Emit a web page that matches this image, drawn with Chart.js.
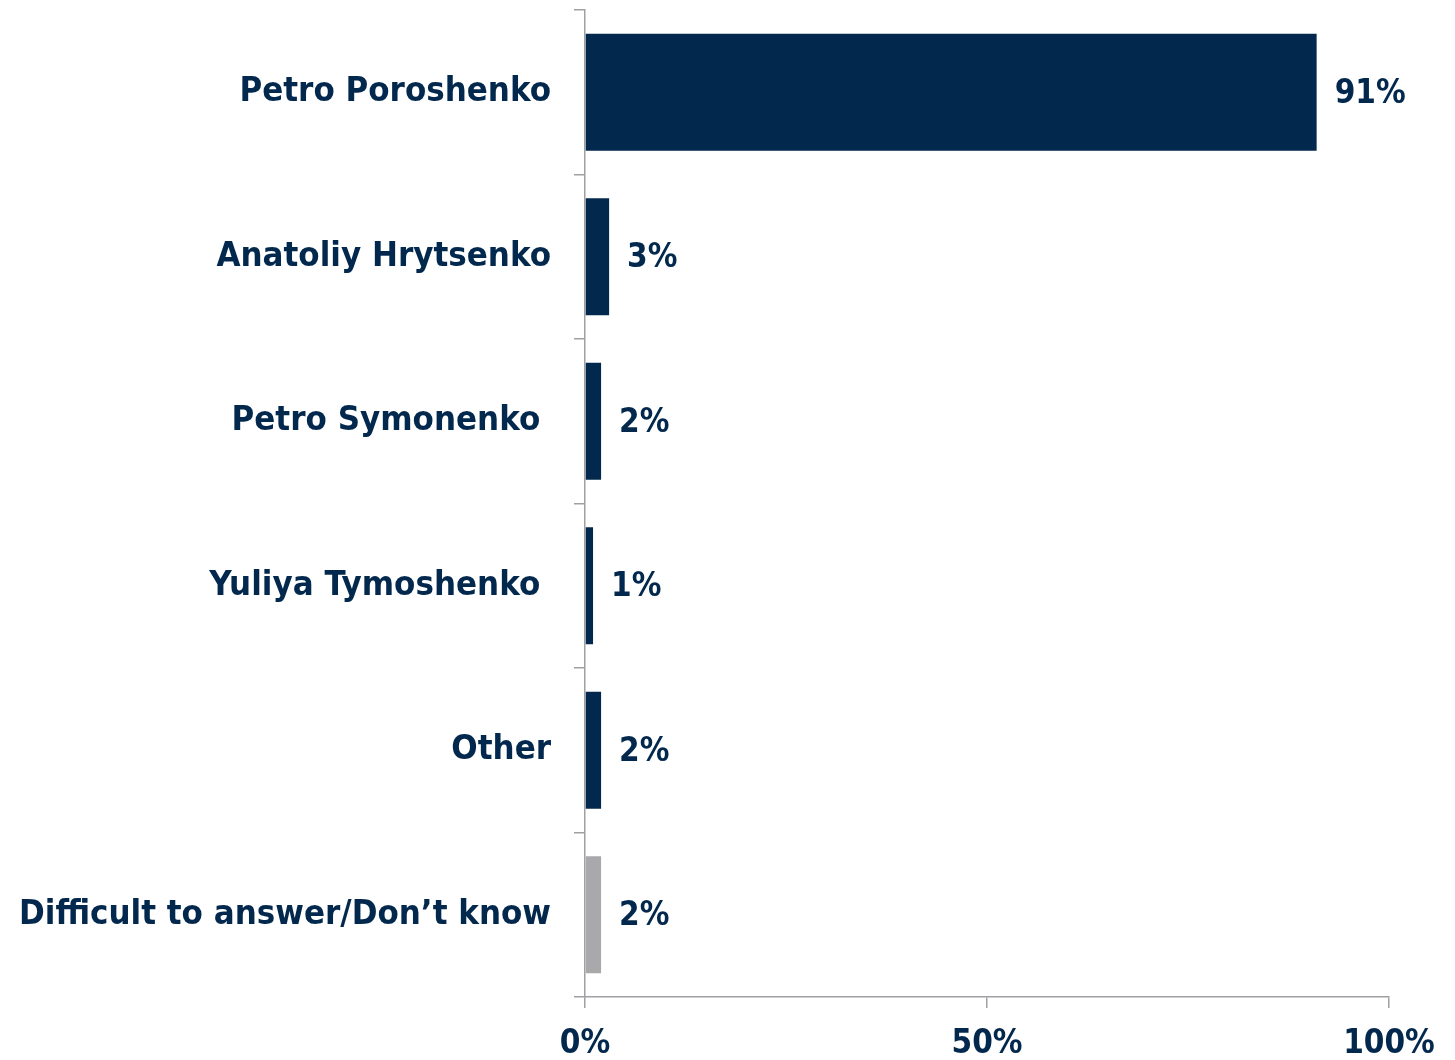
<!DOCTYPE html>
<html>
<head>
<meta charset="utf-8">
<script src="https://cdn.jsdelivr.net/npm/chart.js@4.4.1/dist/chart.umd.min.js"></script>
<style>
  html, body { margin: 0; padding: 0; background: #fff; }
  #wrap { width: 1455px; height: 1060px; }
</style>
</head>
<body>
<div id="wrap"><canvas id="bar-chart"></canvas></div>
<script>
var candidates = ["Petro Poroshenko", "Anatoliy Hrytsenko", "Petro Symonenko ", "Yuliya Tymoshenko ", "Other", "Difficult to answer/Don\u2019t know"];
var shares = [91, 3, 2, 1, 2, 2];
var barColors = ["#03284d", "#03284d", "#03284d", "#03284d", "#03284d", "#a9a9ab"];
var axisTicks = [0, 50, 100];

var navy = "#03284d";
var family = "'DejaVu Sans Condensed', 'DejaVu Sans', sans-serif";
var labelFont = { family: family, weight: "bold", size: 34.5 };
var valueFont = { family: family, weight: "bold", size: 33 };

// value labels to the right of each bar
var valueLabels = {
  id: "valueLabels",
  afterDatasetsDraw: function(chart) {
    var ctx = chart.ctx;
    var meta = chart.getDatasetMeta(0);
    ctx.save();
    ctx.font = valueFont.weight + " " + valueFont.size + "px " + valueFont.family;
    ctx.fillStyle = navy;
    ctx.textAlign = "left";
    ctx.textBaseline = "middle";
    meta.data.forEach(function(bar, i) {
      ctx.fillText(shares[i] + "%", bar.x + 18, bar.y + 2);
    });
    ctx.restore();
  }
};

new Chart(document.getElementById("bar-chart"), {
  type: "bar",
  data: {
    labels: candidates,
    datasets: [{
      data: shares,
      backgroundColor: barColors,
      borderWidth: 0,
      barPercentage: 0.71,
      categoryPercentage: 1
    }]
  },
  options: {
    indexAxis: "y",
    responsive: true,
    maintainAspectRatio: false,
    animation: false,
    layout: { padding: { top: 10, right: 66, left: 0, bottom: 0 } },
    plugins: {
      legend: { display: false },
      tooltip: { enabled: false }
    },
    scales: {
      x: {
        min: 0,
        max: 100,
        afterBuildTicks: function(scale) {
          scale.ticks = axisTicks.map(function(v) { return { value: v }; });
        },
        afterFit: function(scale) { scale.height = 63; },
        border: { color: "#a0a0a4", width: 1.5 },
        grid: { drawOnChartArea: false, color: "#a0a0a4", lineWidth: 1.5, tickLength: 11 },
        ticks: {
          color: navy,
          font: valueFont,
          padding: 17,
          maxRotation: 0,
          callback: function(v) { return v + "%"; }
        }
      },
      y: {
        afterFit: function(scale) {
          scale.width = 585;
          scale.paddingTop = 0;
          scale.paddingBottom = 0;
        },
        border: { color: "#a0a0a4", width: 1.5 },
        grid: { drawOnChartArea: false, color: "#a0a0a4", lineWidth: 1.5, tickLength: 11, offset: true },
        ticks: {
          color: navy,
          font: labelFont,
          padding: 23
        }
      }
    }
  },
  plugins: [valueLabels]
});
</script>
</body>
</html>
